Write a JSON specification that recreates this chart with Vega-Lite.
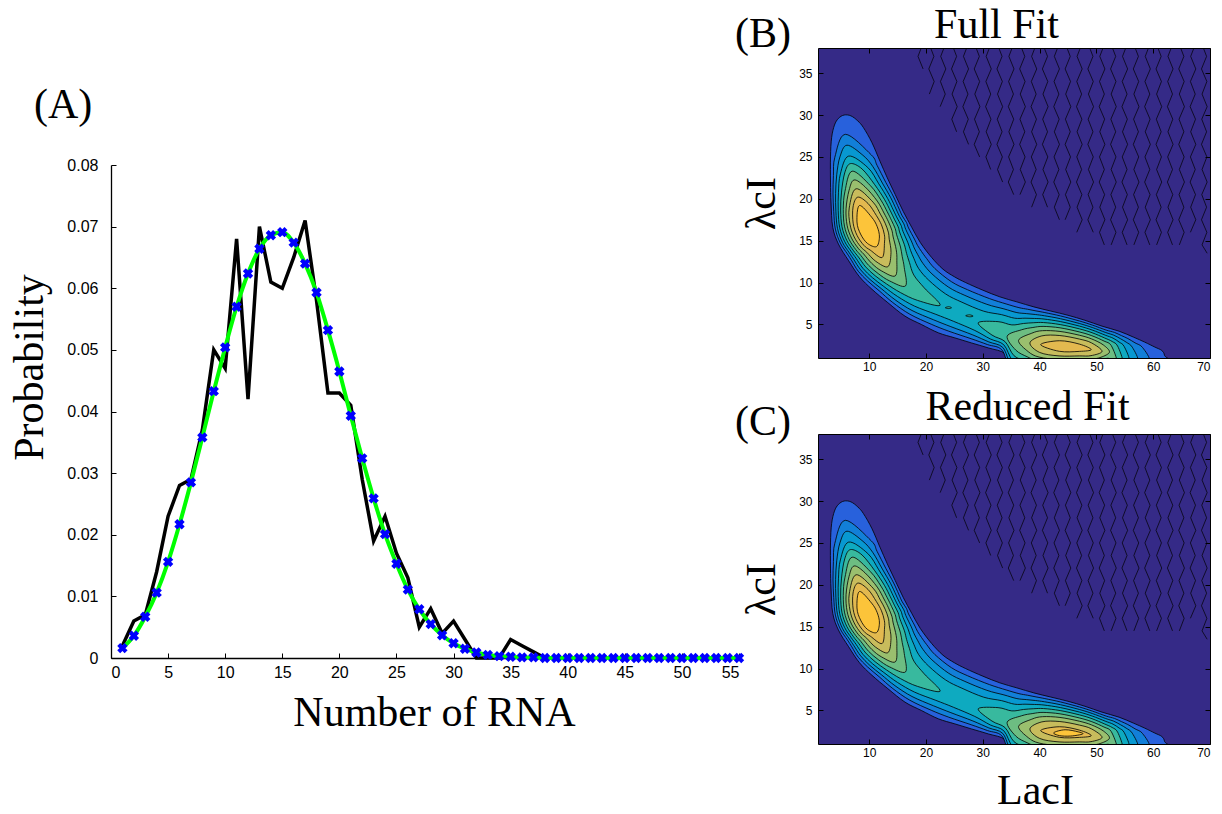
{
  "$schema": "https://vega.github.io/schema/vega-lite/v6.json",
  "background": "white",
  "padding": {"left": 8, "top": 3, "right": 0, "bottom": 0},
  "config": {
    "font": "Liberation Sans",
    "axis": {"labelFont": "Liberation Sans", "labelColor": "black", "titleFont": "Liberation Serif", "titleFontWeight": "normal", "titleColor": "black", "domainColor": "black", "tickColor": "black", "grid": false},
    "title": {"font": "Liberation Serif", "fontWeight": "normal", "color": "black"}
  },
  "datasets": {
    "rna": [
      {"rna":1,"observed":0.002,"fitted":0.0016},{"rna":2,"observed":0.006,"fitted":0.0036},{"rna":3,"observed":0.007,"fitted":0.0067},
      {"rna":4,"observed":0.014,"fitted":0.0106},{"rna":5,"observed":0.023,"fitted":0.0156},{"rna":6,"observed":0.028,"fitted":0.0217},
      {"rna":7,"observed":0.029,"fitted":0.0285},{"rna":8,"observed":0.037,"fitted":0.0358},{"rna":9,"observed":0.050,"fitted":0.0433},
      {"rna":10,"observed":0.047,"fitted":0.0504},{"rna":11,"observed":0.068,"fitted":0.0570},{"rna":12,"observed":0.042,"fitted":0.0624},
      {"rna":13,"observed":0.070,"fitted":0.0664},{"rna":14,"observed":0.061,"fitted":0.0686},{"rna":15,"observed":0.060,"fitted":0.0691},
      {"rna":16,"observed":0.065,"fitted":0.0674},{"rna":17,"observed":0.071,"fitted":0.0640},{"rna":18,"observed":0.058,"fitted":0.0593},
      {"rna":19,"observed":0.043,"fitted":0.0532},{"rna":20,"observed":0.043,"fitted":0.0465},{"rna":21,"observed":0.041,"fitted":0.0393},
      {"rna":22,"observed":0.029,"fitted":0.0324},{"rna":23,"observed":0.019,"fitted":0.0259},{"rna":24,"observed":0.023,"fitted":0.0201},
      {"rna":25,"observed":0.017,"fitted":0.0153},{"rna":26,"observed":0.013,"fitted":0.0111},{"rna":27,"observed":0.005,"fitted":0.0079},
      {"rna":28,"observed":0.008,"fitted":0.0055},{"rna":29,"observed":0.004,"fitted":0.0037},{"rna":30,"observed":0.006,"fitted":0.0024},
      {"rna":31,"observed":0.003,"fitted":0.0015},{"rna":32,"observed":0,"fitted":0.0009},{"rna":33,"observed":0,"fitted":0.0005},
      {"rna":34,"observed":0,"fitted":0.0003},{"rna":35,"observed":0.003,"fitted":0.0002},{"rna":36,"observed":0.002,"fitted":0.0001},
      {"rna":37,"observed":0.001,"fitted":0.0001},{"rna":38,"observed":0,"fitted":0},{"rna":39,"observed":0,"fitted":0},
      {"rna":40,"observed":0,"fitted":0},{"rna":41,"observed":0,"fitted":0},{"rna":42,"observed":0,"fitted":0},
      {"rna":43,"observed":0,"fitted":0},{"rna":44,"observed":0,"fitted":0},{"rna":45,"observed":0,"fitted":0},
      {"rna":46,"observed":0,"fitted":0},{"rna":47,"observed":0,"fitted":0},{"rna":48,"observed":0,"fitted":0},
      {"rna":49,"observed":0,"fitted":0},{"rna":50,"observed":0,"fitted":0},{"rna":51,"observed":0,"fitted":0},
      {"rna":52,"observed":0,"fitted":0},{"rna":53,"observed":0,"fitted":0},{"rna":54,"observed":0,"fitted":0},
      {"rna":55,"observed":0,"fitted":0}
    ],
    "bands": [
      {"band":"1","level":1,"laci":5.6,"ci":30},{"band":"1","level":1,"laci":6.8,"ci":29.9},{"band":"1","level":1,"laci":8,"ci":29.3},
      {"band":"1","level":1,"laci":9,"ci":28.5},{"band":"1","level":1,"laci":10.5,"ci":26.7},{"band":"1","level":1,"laci":11.9,"ci":24.5},
      {"band":"1","level":1,"laci":13.2,"ci":22.5},{"band":"1","level":1,"laci":14.6,"ci":20.5},{"band":"1","level":1,"laci":16,"ci":18.5},
      {"band":"1","level":1,"laci":17.5,"ci":16.6},{"band":"1","level":1,"laci":19,"ci":14.8},{"band":"1","level":1,"laci":21,"ci":13},
      {"band":"1","level":1,"laci":23,"ci":11.6},{"band":"1","level":1,"laci":25,"ci":10.7},{"band":"1","level":1,"laci":27,"ci":10},
      {"band":"1","level":1,"laci":30,"ci":9.1},{"band":"1","level":1,"laci":33,"ci":8.3},{"band":"1","level":1,"laci":36,"ci":7.7},
      {"band":"1","level":1,"laci":39,"ci":7.1},{"band":"1","level":1,"laci":42,"ci":6.6},{"band":"1","level":1,"laci":45,"ci":6.1},
      {"band":"1","level":1,"laci":48,"ci":5.5},{"band":"1","level":1,"laci":51,"ci":4.8},{"band":"1","level":1,"laci":54,"ci":4.2},
      {"band":"1","level":1,"laci":56.5,"ci":3.5},{"band":"1","level":1,"laci":58.5,"ci":2.9},{"band":"1","level":1,"laci":60.3,"ci":2.3},
      {"band":"1","level":1,"laci":61.5,"ci":1.9},{"band":"1","level":1,"laci":62,"ci":1.3},{"band":"1","level":1,"laci":62.1,"ci":0},
      {"band":"1","level":1,"laci":45,"ci":-1},{"band":"1","level":1,"laci":36,"ci":-0.5},{"band":"1","level":1,"laci":34,"ci":1.5},
      {"band":"1","level":1,"laci":31,"ci":2.2},{"band":"1","level":1,"laci":28,"ci":2.8},{"band":"1","level":1,"laci":25.1,"ci":3.4},
      {"band":"1","level":1,"laci":22.2,"ci":4},{"band":"1","level":1,"laci":19.2,"ci":5},{"band":"1","level":1,"laci":16.3,"ci":6},
      {"band":"1","level":1,"laci":13.3,"ci":7.6},{"band":"1","level":1,"laci":10.5,"ci":9.2},{"band":"1","level":1,"laci":8.3,"ci":10.7},
      {"band":"1","level":1,"laci":6.4,"ci":12.6},{"band":"1","level":1,"laci":4.6,"ci":14.6},{"band":"1","level":1,"laci":3.6,"ci":16.6},
      {"band":"1","level":1,"laci":3.3,"ci":19.5},{"band":"1","level":1,"laci":3.2,"ci":22},{"band":"1","level":1,"laci":3.2,"ci":25},
      {"band":"1","level":1,"laci":3.4,"ci":27.3},{"band":"1","level":1,"laci":3.9,"ci":28.8},{"band":"1","level":1,"laci":4.6,"ci":29.6},

      {"band":"2","level":2,"laci":5.8,"ci":27.7},{"band":"2","level":2,"laci":10.37,"ci":25.25},{"band":"2","level":2,"laci":11.4,"ci":23.99},
      {"band":"2","level":2,"laci":12.93,"ci":21.97},{"band":"2","level":2,"laci":14.31,"ci":20.22},{"band":"2","level":2,"laci":15.2,"ci":18.9},
      {"band":"2","level":2,"laci":15.82,"ci":17.97},{"band":"2","level":2,"laci":16.56,"ci":17.19},{"band":"2","level":2,"laci":16.94,"ci":16.52},
      {"band":"2","level":2,"laci":17.97,"ci":15.2},{"band":"2","level":2,"laci":18.53,"ci":14.43},{"band":"2","level":2,"laci":19.21,"ci":13.72},
      {"band":"2","level":2,"laci":20.11,"ci":12.88},{"band":"2","level":2,"laci":21.58,"ci":11.67},{"band":"2","level":2,"laci":24.48,"ci":10.11},
      {"band":"2","level":2,"laci":27.31,"ci":9.15},{"band":"2","level":2,"laci":31.18,"ci":8.09},{"band":"2","level":2,"laci":34.13,"ci":7.45},
      {"band":"2","level":2,"laci":36.37,"ci":7.01},{"band":"2","level":2,"laci":37.89,"ci":6.82},{"band":"2","level":2,"laci":39.38,"ci":6.62},
      {"band":"2","level":2,"laci":40.93,"ci":6.42},{"band":"2","level":2,"laci":43.68,"ci":6.02},{"band":"2","level":2,"laci":47,"ci":5.42},
      {"band":"2","level":2,"laci":49.28,"ci":4.93},{"band":"2","level":2,"laci":51.72,"ci":4.33},{"band":"2","level":2,"laci":53.19,"ci":4.05},
      {"band":"2","level":2,"laci":54.42,"ci":3.67},{"band":"2","level":2,"laci":55.54,"ci":3.32},{"band":"2","level":2,"laci":56.8,"ci":2.81},
      {"band":"2","level":2,"laci":58.13,"ci":2.25},{"band":"2","level":2,"laci":59.3,"ci":0.6},{"band":"2","level":2,"laci":56.06,"ci":0.23},
      {"band":"2","level":2,"laci":54.36,"ci":-0.05},{"band":"2","level":2,"laci":53.23,"ci":-0.15},{"band":"2","level":2,"laci":52.35,"ci":-0.3},
      {"band":"2","level":2,"laci":51.5,"ci":-0.43},{"band":"2","level":2,"laci":50.37,"ci":-0.55},{"band":"2","level":2,"laci":48.92,"ci":-0.65},
      {"band":"2","level":2,"laci":47,"ci":-0.69},{"band":"2","level":2,"laci":43.32,"ci":-0.86},{"band":"2","level":2,"laci":39.56,"ci":-0.83},
      {"band":"2","level":2,"laci":37.31,"ci":-0.63},{"band":"2","level":2,"laci":34.84,"ci":-0.27},{"band":"2","level":2,"laci":33.35,"ci":1.98},
      {"band":"2","level":2,"laci":30.85,"ci":2.6},{"band":"2","level":2,"laci":27.96,"ci":3.3},{"band":"2","level":2,"laci":24.02,"ci":4.2},
      {"band":"2","level":2,"laci":20.93,"ci":5.03},{"band":"2","level":2,"laci":17.18,"ci":6.22},{"band":"2","level":2,"laci":14.16,"ci":7.62},
      {"band":"2","level":2,"laci":11.76,"ci":9.03},{"band":"2","level":2,"laci":9.74,"ci":10.19},{"band":"2","level":2,"laci":8.09,"ci":11.35},
      {"band":"2","level":2,"laci":6.96,"ci":12.59},{"band":"2","level":2,"laci":6.18,"ci":13.42},{"band":"2","level":2,"laci":4.94,"ci":14.71},
      {"band":"2","level":2,"laci":4.06,"ci":16.38},{"band":"2","level":2,"laci":3.77,"ci":18.46},{"band":"2","level":2,"laci":3.64,"ci":20.57},
      {"band":"2","level":2,"laci":3.72,"ci":22.78},{"band":"2","level":2,"laci":3.96,"ci":24.95},

      {"band":"3","level":3,"laci":6.1,"ci":26.4},{"band":"3","level":3,"laci":8.9,"ci":25.2},{"band":"3","level":3,"laci":10.63,"ci":23.87},
      {"band":"3","level":3,"laci":12.33,"ci":21.88},{"band":"3","level":3,"laci":13.8,"ci":20.13},{"band":"3","level":3,"laci":14.73,"ci":18.79},
      {"band":"3","level":3,"laci":15.39,"ci":17.85},{"band":"3","level":3,"laci":16.1,"ci":17.02},{"band":"3","level":3,"laci":16.46,"ci":16.33},
      {"band":"3","level":3,"laci":17.42,"ci":14.98},{"band":"3","level":3,"laci":17.93,"ci":14.14},{"band":"3","level":3,"laci":18.57,"ci":13.32},
      {"band":"3","level":3,"laci":19.46,"ci":12.3},{"band":"3","level":3,"laci":21.06,"ci":11.04},{"band":"3","level":3,"laci":24.01,"ci":9.44},
      {"band":"3","level":3,"laci":26.86,"ci":8.47},{"band":"3","level":3,"laci":30.71,"ci":7.41},{"band":"3","level":3,"laci":33.73,"ci":6.86},
      {"band":"3","level":3,"laci":36.01,"ci":6.42},{"band":"3","level":3,"laci":37.67,"ci":6.3},{"band":"3","level":3,"laci":39.26,"ci":6.19},
      {"band":"3","level":3,"laci":40.86,"ci":6.04},{"band":"3","level":3,"laci":43.67,"ci":5.69},{"band":"3","level":3,"laci":47,"ci":5.12},
      {"band":"3","level":3,"laci":49.27,"ci":4.64},{"band":"3","level":3,"laci":51.64,"ci":4.04},{"band":"3","level":3,"laci":53.06,"ci":3.72},
      {"band":"3","level":3,"laci":54.22,"ci":3.31},{"band":"3","level":3,"laci":55.25,"ci":2.89},{"band":"3","level":3,"laci":56.32,"ci":2.29},
      {"band":"3","level":3,"laci":57.3,"ci":0.6},{"band":"3","level":3,"laci":54.78,"ci":0.49},{"band":"3","level":3,"laci":53.48,"ci":0.24},
      {"band":"3","level":3,"laci":52.52,"ci":0.04},{"band":"3","level":3,"laci":51.61,"ci":-0.13},{"band":"3","level":3,"laci":50.44,"ci":-0.28},
      {"band":"3","level":3,"laci":48.94,"ci":-0.39},{"band":"3","level":3,"laci":47,"ci":-0.43},{"band":"3","level":3,"laci":43.33,"ci":-0.57},
      {"band":"3","level":3,"laci":39.62,"ci":-0.49},{"band":"3","level":3,"laci":37.42,"ci":-0.24},{"band":"3","level":3,"laci":35.04,"ci":0.2},
      {"band":"3","level":3,"laci":33.52,"ci":2.26},{"band":"3","level":3,"laci":31.07,"ci":2.92},{"band":"3","level":3,"laci":28.26,"ci":3.75},
      {"band":"3","level":3,"laci":24.39,"ci":4.74},{"band":"3","level":3,"laci":21.3,"ci":5.57},{"band":"3","level":3,"laci":17.55,"ci":6.67},
      {"band":"3","level":3,"laci":14.55,"ci":7.96},{"band":"3","level":3,"laci":12.16,"ci":9.27},{"band":"3","level":3,"laci":10.14,"ci":10.38},
      {"band":"3","level":3,"laci":8.51,"ci":11.52},{"band":"3","level":3,"laci":7.32,"ci":12.73},{"band":"3","level":3,"laci":6.52,"ci":13.54},
      {"band":"3","level":3,"laci":5.3,"ci":14.81},{"band":"3","level":3,"laci":4.43,"ci":16.47},{"band":"3","level":3,"laci":4.15,"ci":18.52},
      {"band":"3","level":3,"laci":4.1,"ci":20.64},{"band":"3","level":3,"laci":4.3,"ci":22.87},{"band":"3","level":3,"laci":4.86,"ci":25},

      {"band":"4","level":4,"laci":6.4,"ci":25.1},{"band":"4","level":4,"laci":9.77,"ci":23.73},{"band":"4","level":4,"laci":11.7,"ci":21.79},
      {"band":"4","level":4,"laci":13.26,"ci":20.04},{"band":"4","level":4,"laci":14.24,"ci":18.68},{"band":"4","level":4,"laci":14.93,"ci":17.71},
      {"band":"4","level":4,"laci":15.62,"ci":16.84},{"band":"4","level":4,"laci":15.95,"ci":16.13},{"band":"4","level":4,"laci":16.83,"ci":14.75},
      {"band":"4","level":4,"laci":17.3,"ci":13.83},{"band":"4","level":4,"laci":17.88,"ci":12.88},{"band":"4","level":4,"laci":18.73,"ci":11.66},
      {"band":"4","level":4,"laci":20.47,"ci":10.3},{"band":"4","level":4,"laci":23.45,"ci":8.65},{"band":"4","level":4,"laci":26.33,"ci":7.66},
      {"band":"4","level":4,"laci":30.15,"ci":6.59},{"band":"4","level":4,"laci":33.27,"ci":6.18},{"band":"4","level":4,"laci":35.6,"ci":5.75},
      {"band":"4","level":4,"laci":37.43,"ci":5.75},{"band":"4","level":4,"laci":39.13,"ci":5.72},{"band":"4","level":4,"laci":40.78,"ci":5.65},
      {"band":"4","level":4,"laci":43.65,"ci":5.35},{"band":"4","level":4,"laci":47,"ci":4.81},{"band":"4","level":4,"laci":49.25,"ci":4.34},
      {"band":"4","level":4,"laci":51.55,"ci":3.73},{"band":"4","level":4,"laci":52.93,"ci":3.37},{"band":"4","level":4,"laci":54.01,"ci":2.9},
      {"band":"4","level":4,"laci":54.9,"ci":2.37},{"band":"4","level":4,"laci":55.8,"ci":0.6},{"band":"4","level":4,"laci":53.78,"ci":0.71},
      {"band":"4","level":4,"laci":52.7,"ci":0.41},{"band":"4","level":4,"laci":51.73,"ci":0.19},{"band":"4","level":4,"laci":50.52,"ci":0.01},
      {"band":"4","level":4,"laci":48.95,"ci":-0.12},{"band":"4","level":4,"laci":47,"ci":-0.15},{"band":"4","level":4,"laci":43.35,"ci":-0.26},
      {"band":"4","level":4,"laci":39.69,"ci":-0.14},{"band":"4","level":4,"laci":37.54,"ci":0.18},{"band":"4","level":4,"laci":35.26,"ci":0.71},
      {"band":"4","level":4,"laci":33.7,"ci":2.58},{"band":"4","level":4,"laci":31.31,"ci":3.28},{"band":"4","level":4,"laci":28.6,"ci":4.29},
      {"band":"4","level":4,"laci":24.82,"ci":5.39},{"band":"4","level":4,"laci":21.75,"ci":6.21},{"band":"4","level":4,"laci":17.97,"ci":7.2},
      {"band":"4","level":4,"laci":14.99,"ci":8.35},{"band":"4","level":4,"laci":12.58,"ci":9.54},{"band":"4","level":4,"laci":10.58,"ci":10.59},
      {"band":"4","level":4,"laci":8.94,"ci":11.68},{"band":"4","level":4,"laci":7.71,"ci":12.89},{"band":"4","level":4,"laci":6.88,"ci":13.67},
      {"band":"4","level":4,"laci":5.67,"ci":14.93},{"band":"4","level":4,"laci":4.82,"ci":16.55},{"band":"4","level":4,"laci":4.56,"ci":18.59},
      {"band":"4","level":4,"laci":4.6,"ci":20.72},{"band":"4","level":4,"laci":4.94,"ci":22.97},

      {"band":"5a","level":5,"laci":6.7,"ci":24.2},{"band":"5a","level":5,"laci":8.74,"ci":23.57},{"band":"5a","level":5,"laci":10.99,"ci":21.68},
      {"band":"5a","level":5,"laci":12.69,"ci":19.94},{"band":"5a","level":5,"laci":13.73,"ci":18.57},{"band":"5a","level":5,"laci":14.44,"ci":17.57},
      {"band":"5a","level":5,"laci":15.11,"ci":16.66},{"band":"5a","level":5,"laci":15.42,"ci":15.92},{"band":"5a","level":5,"laci":16.21,"ci":14.51},
      {"band":"5a","level":5,"laci":16.59,"ci":13.49},{"band":"5a","level":5,"laci":17.1,"ci":12.39},{"band":"5a","level":5,"laci":17.87,"ci":10.9},
      {"band":"5a","level":5,"laci":19.7,"ci":9.37},{"band":"5a","level":5,"laci":22.5,"ci":7.3},{"band":"5a","level":5,"laci":18.5,"ci":7.88},
      {"band":"5a","level":5,"laci":15.51,"ci":8.81},{"band":"5a","level":5,"laci":13.06,"ci":9.84},{"band":"5a","level":5,"laci":11.06,"ci":10.82},
      {"band":"5a","level":5,"laci":9.4,"ci":11.87},{"band":"5a","level":5,"laci":8.12,"ci":13.05},{"band":"5a","level":5,"laci":7.25,"ci":13.8},
      {"band":"5a","level":5,"laci":6.06,"ci":15.05},{"band":"5a","level":5,"laci":5.23,"ci":16.65},{"band":"5a","level":5,"laci":4.99,"ci":18.66},
      {"band":"5a","level":5,"laci":5.14,"ci":20.8},{"band":"5a","level":5,"laci":5.7,"ci":23.09},

      {"band":"5b","level":5,"laci":29.2,"ci":5.2},{"band":"5b","level":5,"laci":32.7,"ci":5.34},{"band":"5b","level":5,"laci":35.12,"ci":4.95},
      {"band":"5b","level":5,"laci":37.17,"ci":5.12},{"band":"5b","level":5,"laci":38.98,"ci":5.21},{"band":"5b","level":5,"laci":40.7,"ci":5.23},
      {"band":"5b","level":5,"laci":43.63,"ci":4.99},{"band":"5b","level":5,"laci":47,"ci":4.48},{"band":"5b","level":5,"laci":49.23,"ci":4.02},
      {"band":"5b","level":5,"laci":51.45,"ci":3.39},{"band":"5b","level":5,"laci":52.78,"ci":2.97},{"band":"5b","level":5,"laci":53.74,"ci":2.42},
      {"band":"5b","level":5,"laci":54.6,"ci":0.6},{"band":"5b","level":5,"laci":52.92,"ci":0.85},{"band":"5b","level":5,"laci":51.87,"ci":0.55},
      {"band":"5b","level":5,"laci":50.6,"ci":0.32},{"band":"5b","level":5,"laci":48.97,"ci":0.17},{"band":"5b","level":5,"laci":47,"ci":0.15},
      {"band":"5b","level":5,"laci":43.37,"ci":0.07},{"band":"5b","level":5,"laci":39.76,"ci":0.24},{"band":"5b","level":5,"laci":37.68,"ci":0.64},
      {"band":"5b","level":5,"laci":35.51,"ci":1.27},{"band":"5b","level":5,"laci":33.92,"ci":2.96},{"band":"5b","level":5,"laci":31.62,"ci":3.74},

      {"band":"6a","level":6,"laci":7,"ci":23.3},{"band":"6a","level":6,"laci":10.22,"ci":21.57},{"band":"6a","level":6,"laci":12.08,"ci":19.84},
      {"band":"6a","level":6,"laci":13.19,"ci":18.45},{"band":"6a","level":6,"laci":13.94,"ci":17.42},{"band":"6a","level":6,"laci":14.58,"ci":16.46},
      {"band":"6a","level":6,"laci":14.85,"ci":15.7},{"band":"6a","level":6,"laci":15.52,"ci":14.25},{"band":"6a","level":6,"laci":15.82,"ci":13.12},
      {"band":"6a","level":6,"laci":16.18,"ci":11.8},{"band":"6a","level":6,"laci":16.4,"ci":9.6},{"band":"6a","level":6,"laci":13.63,"ci":10.19},
      {"band":"6a","level":6,"laci":11.59,"ci":11.08},{"band":"6a","level":6,"laci":9.91,"ci":12.06},{"band":"6a","level":6,"laci":8.56,"ci":13.22},
      {"band":"6a","level":6,"laci":7.65,"ci":13.94},{"band":"6a","level":6,"laci":6.46,"ci":15.17},{"band":"6a","level":6,"laci":5.66,"ci":16.74},
      {"band":"6a","level":6,"laci":5.45,"ci":18.73},{"band":"6a","level":6,"laci":5.75,"ci":20.9},

      {"band":"6b","level":6,"laci":34.3,"ci":3.6},{"band":"6b","level":6,"laci":36.85,"ci":4.37},{"band":"6b","level":6,"laci":38.82,"ci":4.64},
      {"band":"6b","level":6,"laci":40.62,"ci":4.77},{"band":"6b","level":6,"laci":43.61,"ci":4.6},{"band":"6b","level":6,"laci":47,"ci":4.11},
      {"band":"6b","level":6,"laci":49.2,"ci":3.66},{"band":"6b","level":6,"laci":51.35,"ci":3.02},{"band":"6b","level":6,"laci":52.6,"ci":2.5},
      {"band":"6b","level":6,"laci":53.6,"ci":0.6},{"band":"6b","level":6,"laci":52.03,"ci":0.97},{"band":"6b","level":6,"laci":50.7,"ci":0.67},
      {"band":"6b","level":6,"laci":48.99,"ci":0.49},{"band":"6b","level":6,"laci":47,"ci":0.48},{"band":"6b","level":6,"laci":43.39,"ci":0.42},
      {"band":"6b","level":6,"laci":39.84,"ci":0.65},{"band":"6b","level":6,"laci":37.82,"ci":1.15},{"band":"6b","level":6,"laci":35.8,"ci":1.95},

      {"band":"7a","level":7,"laci":7.35,"ci":22.25},{"band":"7a","level":7,"laci":9.28,"ci":21.43},{"band":"7a","level":7,"laci":11.43,"ci":19.73},
      {"band":"7a","level":7,"laci":12.61,"ci":18.31},{"band":"7a","level":7,"laci":13.4,"ci":17.26},{"band":"7a","level":7,"laci":14,"ci":16.25},
      {"band":"7a","level":7,"laci":14.23,"ci":15.45},{"band":"7a","level":7,"laci":14.76,"ci":13.95},{"band":"7a","level":7,"laci":14.88,"ci":12.66},
      {"band":"7a","level":7,"laci":14.6,"ci":10.8},{"band":"7a","level":7,"laci":12.22,"ci":11.38},{"band":"7a","level":7,"laci":10.47,"ci":12.29},
      {"band":"7a","level":7,"laci":9.04,"ci":13.41},{"band":"7a","level":7,"laci":8.07,"ci":14.1},{"band":"7a","level":7,"laci":6.9,"ci":15.31},
      {"band":"7a","level":7,"laci":6.12,"ci":16.85},{"band":"7a","level":7,"laci":5.94,"ci":18.82},{"band":"7a","level":7,"laci":6.47,"ci":21.01},

      {"band":"7b","level":7,"laci":36.3,"ci":3.1},{"band":"7b","level":7,"laci":38.63,"ci":3.96},{"band":"7b","level":7,"laci":40.52,"ci":4.26},
      {"band":"7b","level":7,"laci":43.59,"ci":4.17},{"band":"7b","level":7,"laci":47,"ci":3.72},{"band":"7b","level":7,"laci":49.18,"ci":3.27},
      {"band":"7b","level":7,"laci":51.22,"ci":2.56},{"band":"7b","level":7,"laci":52.3,"ci":1.7},{"band":"7b","level":7,"laci":50.81,"ci":1.09},
      {"band":"7b","level":7,"laci":49.02,"ci":0.85},{"band":"7b","level":7,"laci":47,"ci":0.83},{"band":"7b","level":7,"laci":43.41,"ci":0.81},
      {"band":"7b","level":7,"laci":39.92,"ci":1.11},{"band":"7b","level":7,"laci":38,"ci":1.76},

      {"band":"8a","level":8,"laci":7.7,"ci":21.2},{"band":"8a","level":8,"laci":10.69,"ci":19.6},{"band":"8a","level":8,"laci":11.98,"ci":18.17},
      {"band":"8a","level":8,"laci":12.82,"ci":17.09},{"band":"8a","level":8,"laci":13.38,"ci":16.02},{"band":"8a","level":8,"laci":13.54,"ci":15.18},
      {"band":"8a","level":8,"laci":13.85,"ci":13.6},{"band":"8a","level":8,"laci":13.3,"ci":11.9},{"band":"8a","level":8,"laci":11.15,"ci":12.55},
      {"band":"8a","level":8,"laci":9.58,"ci":13.62},{"band":"8a","level":8,"laci":8.54,"ci":14.26},{"band":"8a","level":8,"laci":7.37,"ci":15.45},
      {"band":"8a","level":8,"laci":6.63,"ci":16.96},{"band":"8a","level":8,"laci":6.5,"ci":18.91},

      {"band":"8b","level":8,"laci":38.3,"ci":2.8},{"band":"8b","level":8,"laci":40.4,"ci":3.64},{"band":"8b","level":8,"laci":43.57,"ci":3.68},
      {"band":"8b","level":8,"laci":47,"ci":3.26},{"band":"8b","level":8,"laci":49.15,"ci":2.8},{"band":"8b","level":8,"laci":51,"ci":1.8},
      {"band":"8b","level":8,"laci":49.05,"ci":1.28},{"band":"8b","level":8,"laci":47,"ci":1.25},{"band":"8b","level":8,"laci":43.43,"ci":1.25},
      {"band":"8b","level":8,"laci":40.03,"ci":1.66},

      {"band":"9a","level":9,"laci":8,"ci":20.2},{"band":"9a","level":9,"laci":9.8,"ci":19.45},{"band":"9a","level":9,"laci":11.27,"ci":18.01},
      {"band":"9a","level":9,"laci":12.17,"ci":16.9},{"band":"9a","level":9,"laci":12.67,"ci":15.76},{"band":"9a","level":9,"laci":12.71,"ci":14.85},
      {"band":"9a","level":9,"laci":12.3,"ci":13},{"band":"9a","level":9,"laci":10.21,"ci":13.87},{"band":"9a","level":9,"laci":9.07,"ci":14.45},
      {"band":"9a","level":9,"laci":7.89,"ci":15.61},{"band":"9a","level":9,"laci":7.19,"ci":17.09},{"band":"9a","level":9,"laci":7.17,"ci":19.02},

      {"band":"9b","level":9,"laci":40.2,"ci":2.6},{"band":"9b","level":9,"laci":43.53,"ci":3.06},{"band":"9b","level":9,"laci":47,"ci":2.66},
      {"band":"9b","level":9,"laci":49.1,"ci":2},{"band":"9b","level":9,"laci":47,"ci":1.79},{"band":"9b","level":9,"laci":43.47,"ci":1.8},

      {"band":"10a","level":10,"laci":8.3,"ci":19.2},{"band":"10a","level":10,"laci":10.43,"ci":17.82},{"band":"10a","level":10,"laci":11.42,"ci":16.68},
      {"band":"10a","level":10,"laci":11.81,"ci":15.44},{"band":"10a","level":10,"laci":11.3,"ci":14.3},{"band":"10a","level":10,"laci":9.7,"ci":14.68},
      {"band":"10a","level":10,"laci":8.49,"ci":15.8},{"band":"10a","level":10,"laci":7.86,"ci":17.24}
    ],
    "fullExtra": [
      {"band":"d1","level":5,"laci":23.4,"ci":7},{"band":"d1","level":5,"laci":24,"ci":7.12},{"band":"d1","level":5,"laci":24.5,"ci":7},{"band":"d1","level":5,"laci":24,"ci":6.9},
      {"band":"d2","level":5,"laci":27,"ci":6.05},{"band":"d2","level":5,"laci":27.7,"ci":6.15},{"band":"d2","level":5,"laci":28.3,"ci":6},{"band":"d2","level":5,"laci":27.7,"ci":5.92}
    ],
    "reducedExtra": [
      {"band":"10b","level":10,"laci":42.5,"ci":2.35},{"band":"10b","level":10,"laci":44.5,"ci":2.7},{"band":"10b","level":10,"laci":46.8,"ci":2.45},
      {"band":"10b","level":10,"laci":47.6,"ci":2.2},{"band":"10b","level":10,"laci":45.5,"ci":1.95},{"band":"10b","level":10,"laci":43.5,"ci":2}
    ],
    "noise": [
      {"line":"n19","laci":19.45,"ci":38.5},{"line":"n19","laci":18.6,"ci":37},{"line":"n19","laci":19.5,"ci":35.5},
      {"line":"n21","laci":20.55,"ci":38.5},{"line":"n21","laci":21.4,"ci":37},{"line":"n21","laci":20.5,"ci":35.5},{"line":"n21","laci":21.45,"ci":34},{"line":"n21","laci":20.6,"ci":32.5},
      {"line":"n23","laci":23.45,"ci":38.5},{"line":"n23","laci":22.6,"ci":37},{"line":"n23","laci":23.5,"ci":35.5},{"line":"n23","laci":22.55,"ci":34},{"line":"n23","laci":23.4,"ci":32.5},{"line":"n23","laci":22.5,"ci":31},
      {"line":"n25","laci":24.55,"ci":38.5},{"line":"n25","laci":25.4,"ci":37},{"line":"n25","laci":24.5,"ci":35.5},{"line":"n25","laci":25.45,"ci":34},{"line":"n25","laci":24.6,"ci":32.5},{"line":"n25","laci":25.5,"ci":31},{"line":"n25","laci":24.55,"ci":29.5},{"line":"n25","laci":25.4,"ci":28},
      {"line":"n27","laci":27.45,"ci":38.5},{"line":"n27","laci":26.6,"ci":37},{"line":"n27","laci":27.5,"ci":35.5},{"line":"n27","laci":26.55,"ci":34},{"line":"n27","laci":27.4,"ci":32.5},{"line":"n27","laci":26.5,"ci":31},{"line":"n27","laci":27.45,"ci":29.5},{"line":"n27","laci":26.6,"ci":28},{"line":"n27","laci":27.5,"ci":26.5},
      {"line":"n29","laci":28.55,"ci":38.5},{"line":"n29","laci":29.4,"ci":37},{"line":"n29","laci":28.5,"ci":35.5},{"line":"n29","laci":29.45,"ci":34},{"line":"n29","laci":28.6,"ci":32.5},{"line":"n29","laci":29.5,"ci":31},{"line":"n29","laci":28.55,"ci":29.5},{"line":"n29","laci":29.4,"ci":28},{"line":"n29","laci":28.5,"ci":26.5},{"line":"n29","laci":29.45,"ci":25},
      {"line":"n31","laci":31.45,"ci":38.5},{"line":"n31","laci":30.6,"ci":37},{"line":"n31","laci":31.5,"ci":35.5},{"line":"n31","laci":30.55,"ci":34},{"line":"n31","laci":31.4,"ci":32.5},{"line":"n31","laci":30.5,"ci":31},{"line":"n31","laci":31.45,"ci":29.5},{"line":"n31","laci":30.6,"ci":28},{"line":"n31","laci":31.5,"ci":26.5},{"line":"n31","laci":30.55,"ci":25},{"line":"n31","laci":31.4,"ci":23.5},
      {"line":"n33","laci":32.55,"ci":38.5},{"line":"n33","laci":33.4,"ci":37},{"line":"n33","laci":32.5,"ci":35.5},{"line":"n33","laci":33.45,"ci":34},{"line":"n33","laci":32.6,"ci":32.5},{"line":"n33","laci":33.5,"ci":31},{"line":"n33","laci":32.55,"ci":29.5},{"line":"n33","laci":33.4,"ci":28},{"line":"n33","laci":32.5,"ci":26.5},{"line":"n33","laci":33.45,"ci":25},{"line":"n33","laci":32.6,"ci":23.5},{"line":"n33","laci":33.5,"ci":22},
      {"line":"n35","laci":35.45,"ci":38.5},{"line":"n35","laci":34.6,"ci":37},{"line":"n35","laci":35.5,"ci":35.5},{"line":"n35","laci":34.55,"ci":34},{"line":"n35","laci":35.4,"ci":32.5},{"line":"n35","laci":34.5,"ci":31},{"line":"n35","laci":35.45,"ci":29.5},{"line":"n35","laci":34.6,"ci":28},{"line":"n35","laci":35.5,"ci":26.5},{"line":"n35","laci":34.55,"ci":25},{"line":"n35","laci":35.4,"ci":23.5},{"line":"n35","laci":34.5,"ci":22},{"line":"n35","laci":35.45,"ci":20.5},
      {"line":"n37","laci":36.55,"ci":38.5},{"line":"n37","laci":37.4,"ci":37},{"line":"n37","laci":36.5,"ci":35.5},{"line":"n37","laci":37.45,"ci":34},{"line":"n37","laci":36.6,"ci":32.5},{"line":"n37","laci":37.5,"ci":31},{"line":"n37","laci":36.55,"ci":29.5},{"line":"n37","laci":37.4,"ci":28},{"line":"n37","laci":36.5,"ci":26.5},{"line":"n37","laci":37.45,"ci":25},{"line":"n37","laci":36.6,"ci":23.5},{"line":"n37","laci":37.5,"ci":22},{"line":"n37","laci":36.55,"ci":20.5},
      {"line":"n39","laci":39.45,"ci":38.5},{"line":"n39","laci":38.6,"ci":37},{"line":"n39","laci":39.5,"ci":35.5},{"line":"n39","laci":38.55,"ci":34},{"line":"n39","laci":39.4,"ci":32.5},{"line":"n39","laci":38.5,"ci":31},{"line":"n39","laci":39.45,"ci":29.5},{"line":"n39","laci":38.6,"ci":28},{"line":"n39","laci":39.5,"ci":26.5},{"line":"n39","laci":38.55,"ci":25},{"line":"n39","laci":39.4,"ci":23.5},{"line":"n39","laci":38.5,"ci":22},{"line":"n39","laci":39.45,"ci":20.5},{"line":"n39","laci":38.6,"ci":19},
      {"line":"n41","laci":40.55,"ci":38.5},{"line":"n41","laci":41.4,"ci":37},{"line":"n41","laci":40.5,"ci":35.5},{"line":"n41","laci":41.45,"ci":34},{"line":"n41","laci":40.6,"ci":32.5},{"line":"n41","laci":41.5,"ci":31},{"line":"n41","laci":40.55,"ci":29.5},{"line":"n41","laci":41.4,"ci":28},{"line":"n41","laci":40.5,"ci":26.5},{"line":"n41","laci":41.45,"ci":25},{"line":"n41","laci":40.6,"ci":23.5},{"line":"n41","laci":41.5,"ci":22},{"line":"n41","laci":40.55,"ci":20.5},{"line":"n41","laci":41.4,"ci":19},
      {"line":"n43","laci":43.45,"ci":38.5},{"line":"n43","laci":42.6,"ci":37},{"line":"n43","laci":43.5,"ci":35.5},{"line":"n43","laci":42.55,"ci":34},{"line":"n43","laci":43.4,"ci":32.5},{"line":"n43","laci":42.5,"ci":31},{"line":"n43","laci":43.45,"ci":29.5},{"line":"n43","laci":42.6,"ci":28},{"line":"n43","laci":43.5,"ci":26.5},{"line":"n43","laci":42.55,"ci":25},{"line":"n43","laci":43.4,"ci":23.5},{"line":"n43","laci":42.5,"ci":22},{"line":"n43","laci":43.45,"ci":20.5},{"line":"n43","laci":42.6,"ci":19},{"line":"n43","laci":43.5,"ci":17.5},
      {"line":"n45","laci":44.55,"ci":38.5},{"line":"n45","laci":45.4,"ci":37},{"line":"n45","laci":44.5,"ci":35.5},{"line":"n45","laci":45.45,"ci":34},{"line":"n45","laci":44.6,"ci":32.5},{"line":"n45","laci":45.5,"ci":31},{"line":"n45","laci":44.55,"ci":29.5},{"line":"n45","laci":45.4,"ci":28},{"line":"n45","laci":44.5,"ci":26.5},{"line":"n45","laci":45.45,"ci":25},{"line":"n45","laci":44.6,"ci":23.5},{"line":"n45","laci":45.5,"ci":22},{"line":"n45","laci":44.55,"ci":20.5},{"line":"n45","laci":45.4,"ci":19},{"line":"n45","laci":44.5,"ci":17.5},
      {"line":"n47","laci":47.45,"ci":38.5},{"line":"n47","laci":46.6,"ci":37},{"line":"n47","laci":47.5,"ci":35.5},{"line":"n47","laci":46.55,"ci":34},{"line":"n47","laci":47.4,"ci":32.5},{"line":"n47","laci":46.5,"ci":31},{"line":"n47","laci":47.45,"ci":29.5},{"line":"n47","laci":46.6,"ci":28},{"line":"n47","laci":47.5,"ci":26.5},{"line":"n47","laci":46.55,"ci":25},{"line":"n47","laci":47.4,"ci":23.5},{"line":"n47","laci":46.5,"ci":22},{"line":"n47","laci":47.45,"ci":20.5},{"line":"n47","laci":46.6,"ci":19},{"line":"n47","laci":47.5,"ci":17.5},{"line":"n47","laci":46.55,"ci":16},
      {"line":"n49","laci":48.55,"ci":38.5},{"line":"n49","laci":49.4,"ci":37},{"line":"n49","laci":48.5,"ci":35.5},{"line":"n49","laci":49.45,"ci":34},{"line":"n49","laci":48.6,"ci":32.5},{"line":"n49","laci":49.5,"ci":31},{"line":"n49","laci":48.55,"ci":29.5},{"line":"n49","laci":49.4,"ci":28},{"line":"n49","laci":48.5,"ci":26.5},{"line":"n49","laci":49.45,"ci":25},{"line":"n49","laci":48.6,"ci":23.5},{"line":"n49","laci":49.5,"ci":22},{"line":"n49","laci":48.55,"ci":20.5},{"line":"n49","laci":49.4,"ci":19},{"line":"n49","laci":48.5,"ci":17.5},{"line":"n49","laci":49.45,"ci":16},
      {"line":"n51","laci":51.45,"ci":38.5},{"line":"n51","laci":50.6,"ci":37},{"line":"n51","laci":51.5,"ci":35.5},{"line":"n51","laci":50.55,"ci":34},{"line":"n51","laci":51.4,"ci":32.5},{"line":"n51","laci":50.5,"ci":31},{"line":"n51","laci":51.45,"ci":29.5},{"line":"n51","laci":50.6,"ci":28},{"line":"n51","laci":51.5,"ci":26.5},{"line":"n51","laci":50.55,"ci":25},{"line":"n51","laci":51.4,"ci":23.5},{"line":"n51","laci":50.5,"ci":22},{"line":"n51","laci":51.45,"ci":20.5},{"line":"n51","laci":50.6,"ci":19},{"line":"n51","laci":51.5,"ci":17.5},{"line":"n51","laci":50.55,"ci":16},{"line":"n51","laci":51.4,"ci":14.5},
      {"line":"n53","laci":52.55,"ci":38.5},{"line":"n53","laci":53.4,"ci":37},{"line":"n53","laci":52.5,"ci":35.5},{"line":"n53","laci":53.45,"ci":34},{"line":"n53","laci":52.6,"ci":32.5},{"line":"n53","laci":53.5,"ci":31},{"line":"n53","laci":52.55,"ci":29.5},{"line":"n53","laci":53.4,"ci":28},{"line":"n53","laci":52.5,"ci":26.5},{"line":"n53","laci":53.45,"ci":25},{"line":"n53","laci":52.6,"ci":23.5},{"line":"n53","laci":53.5,"ci":22},{"line":"n53","laci":52.55,"ci":20.5},{"line":"n53","laci":53.4,"ci":19},{"line":"n53","laci":52.5,"ci":17.5},{"line":"n53","laci":53.45,"ci":16},{"line":"n53","laci":52.6,"ci":14.5},
      {"line":"n55","laci":55.45,"ci":38.5},{"line":"n55","laci":54.6,"ci":37},{"line":"n55","laci":55.5,"ci":35.5},{"line":"n55","laci":54.55,"ci":34},{"line":"n55","laci":55.4,"ci":32.5},{"line":"n55","laci":54.5,"ci":31},{"line":"n55","laci":55.45,"ci":29.5},{"line":"n55","laci":54.6,"ci":28},{"line":"n55","laci":55.5,"ci":26.5},{"line":"n55","laci":54.55,"ci":25},{"line":"n55","laci":55.4,"ci":23.5},{"line":"n55","laci":54.5,"ci":22},{"line":"n55","laci":55.45,"ci":20.5},{"line":"n55","laci":54.6,"ci":19},{"line":"n55","laci":55.5,"ci":17.5},{"line":"n55","laci":54.55,"ci":16},{"line":"n55","laci":55.4,"ci":14.5},
      {"line":"n57","laci":56.55,"ci":38.5},{"line":"n57","laci":57.4,"ci":37},{"line":"n57","laci":56.5,"ci":35.5},{"line":"n57","laci":57.45,"ci":34},{"line":"n57","laci":56.6,"ci":32.5},{"line":"n57","laci":57.5,"ci":31},{"line":"n57","laci":56.55,"ci":29.5},{"line":"n57","laci":57.4,"ci":28},{"line":"n57","laci":56.5,"ci":26.5},{"line":"n57","laci":57.45,"ci":25},{"line":"n57","laci":56.6,"ci":23.5},{"line":"n57","laci":57.5,"ci":22},{"line":"n57","laci":56.55,"ci":20.5},{"line":"n57","laci":57.4,"ci":19},{"line":"n57","laci":56.5,"ci":17.5},{"line":"n57","laci":57.45,"ci":16},{"line":"n57","laci":56.6,"ci":14.5},
      {"line":"n59","laci":59.45,"ci":38.5},{"line":"n59","laci":58.6,"ci":37},{"line":"n59","laci":59.5,"ci":35.5},{"line":"n59","laci":58.55,"ci":34},{"line":"n59","laci":59.4,"ci":32.5},{"line":"n59","laci":58.5,"ci":31},{"line":"n59","laci":59.45,"ci":29.5},{"line":"n59","laci":58.6,"ci":28},{"line":"n59","laci":59.5,"ci":26.5},{"line":"n59","laci":58.55,"ci":25},{"line":"n59","laci":59.4,"ci":23.5},{"line":"n59","laci":58.5,"ci":22},{"line":"n59","laci":59.45,"ci":20.5},{"line":"n59","laci":58.6,"ci":19},{"line":"n59","laci":59.5,"ci":17.5},{"line":"n59","laci":58.55,"ci":16},{"line":"n59","laci":59.4,"ci":14.5},
      {"line":"n61","laci":60.55,"ci":38.5},{"line":"n61","laci":61.4,"ci":37},{"line":"n61","laci":60.5,"ci":35.5},{"line":"n61","laci":61.45,"ci":34},{"line":"n61","laci":60.6,"ci":32.5},{"line":"n61","laci":61.5,"ci":31},{"line":"n61","laci":60.55,"ci":29.5},{"line":"n61","laci":61.4,"ci":28},{"line":"n61","laci":60.5,"ci":26.5},{"line":"n61","laci":61.45,"ci":25},{"line":"n61","laci":60.6,"ci":23.5},{"line":"n61","laci":61.5,"ci":22},{"line":"n61","laci":60.55,"ci":20.5},{"line":"n61","laci":61.4,"ci":19},{"line":"n61","laci":60.5,"ci":17.5},{"line":"n61","laci":61.45,"ci":16},{"line":"n61","laci":60.6,"ci":14.5},
      {"line":"n63","laci":63.45,"ci":38.5},{"line":"n63","laci":62.6,"ci":37},{"line":"n63","laci":63.5,"ci":35.5},{"line":"n63","laci":62.55,"ci":34},{"line":"n63","laci":63.4,"ci":32.5},{"line":"n63","laci":62.5,"ci":31},{"line":"n63","laci":63.45,"ci":29.5},{"line":"n63","laci":62.6,"ci":28},{"line":"n63","laci":63.5,"ci":26.5},{"line":"n63","laci":62.55,"ci":25},{"line":"n63","laci":63.4,"ci":23.5},{"line":"n63","laci":62.5,"ci":22},{"line":"n63","laci":63.45,"ci":20.5},{"line":"n63","laci":62.6,"ci":19},{"line":"n63","laci":63.5,"ci":17.5},{"line":"n63","laci":62.55,"ci":16},{"line":"n63","laci":63.4,"ci":14.5},
      {"line":"n65","laci":64.55,"ci":38.5},{"line":"n65","laci":65.4,"ci":37},{"line":"n65","laci":64.5,"ci":35.5},{"line":"n65","laci":65.45,"ci":34},{"line":"n65","laci":64.6,"ci":32.5},{"line":"n65","laci":65.5,"ci":31},{"line":"n65","laci":64.55,"ci":29.5},{"line":"n65","laci":65.4,"ci":28},{"line":"n65","laci":64.5,"ci":26.5},{"line":"n65","laci":65.45,"ci":25},{"line":"n65","laci":64.6,"ci":23.5},{"line":"n65","laci":65.5,"ci":22},{"line":"n65","laci":64.55,"ci":20.5},{"line":"n65","laci":65.4,"ci":19},{"line":"n65","laci":64.5,"ci":17.5},{"line":"n65","laci":65.45,"ci":16},{"line":"n65","laci":64.6,"ci":14.5},
      {"line":"n67","laci":67.45,"ci":38.5},{"line":"n67","laci":66.6,"ci":37},{"line":"n67","laci":67.5,"ci":35.5},{"line":"n67","laci":66.55,"ci":34},{"line":"n67","laci":67.4,"ci":32.5},{"line":"n67","laci":66.5,"ci":31},{"line":"n67","laci":67.45,"ci":29.5},{"line":"n67","laci":66.6,"ci":28},{"line":"n67","laci":67.5,"ci":26.5},{"line":"n67","laci":66.55,"ci":25},{"line":"n67","laci":67.4,"ci":23.5},{"line":"n67","laci":66.5,"ci":22},{"line":"n67","laci":67.45,"ci":20.5},{"line":"n67","laci":66.6,"ci":19},{"line":"n67","laci":67.5,"ci":17.5},{"line":"n67","laci":66.55,"ci":16},
      {"line":"n69","laci":68.55,"ci":38.5},{"line":"n69","laci":69.4,"ci":37},{"line":"n69","laci":68.5,"ci":35.5},{"line":"n69","laci":69.45,"ci":34},{"line":"n69","laci":68.6,"ci":32.5},{"line":"n69","laci":69.5,"ci":31},{"line":"n69","laci":68.55,"ci":29.5},{"line":"n69","laci":69.4,"ci":28},{"line":"n69","laci":68.5,"ci":26.5},{"line":"n69","laci":69.45,"ci":25},{"line":"n69","laci":68.6,"ci":23.5},{"line":"n69","laci":69.5,"ci":22},{"line":"n69","laci":68.55,"ci":20.5},{"line":"n69","laci":69.4,"ci":19},{"line":"n69","laci":68.5,"ci":17.5},{"line":"n69","laci":69.45,"ci":16},{"line":"n69","laci":68.6,"ci":14.5},{"line":"n69","laci":69.5,"ci":13.5}
    ]
  },
  "spacing": -13,
  "hconcat": [
    {
      "bounds": "flush",
      "spacing": 0,
      "vconcat": [
        {
          "width": 628, "height": 117,
          "data": {"values": [{"gap": 0}]},
          "mark": {"type": "point", "opacity": 0},
          "view": {"stroke": null}
        },
        {
          "width": 628, "height": 493,
          "data": {"name": "rna"},
          "view": {"stroke": null},
          "title": {"text": "(A)", "anchor": "start", "frame": "group", "dx": -77, "dy": 3, "offset": 0, "fontSize": 42, "baseline": "alphabetic"},
          "encoding": {
            "x": {"field": "rna", "type": "quantitative", "scale": {"domain": [0, 55], "nice": false},
              "axis": {"values": [0,5,10,15,20,25,30,35,40,45,50,55], "labelFontSize": 16, "tickSize": -5, "labelPadding": 11, "domainWidth": 1.3, "title": "Number of RNA", "titleFontSize": 42, "titlePadding": 12, "titleX": 323}}
          },
          "layer": [
            {
              "mark": {"type": "line", "color": "black", "strokeWidth": 3.5},
              "encoding": {"y": {"field": "observed", "type": "quantitative", "title": "Probability", "scale": {"domain": [0, 0.08], "nice": false},
                "axis": {"values": [0,0.01,0.02,0.03,0.04,0.05,0.06,0.07,0.08], "format": ".2~f", "labelFontSize": 16, "tickSize": -5, "labelPadding": 18, "domainWidth": 1.3, "titleFontSize": 42, "titlePadding": 15, "titleY": 202}}}
            },
            {
              "mark": {"type": "line", "color": "#00ff00", "strokeWidth": 4, "interpolate": "monotone"},
              "encoding": {"y": {"field": "fitted", "type": "quantitative", "title": "Probability"}}
            },
            {
              "mark": {"type": "point", "shape": "cross", "angle": 45, "filled": true, "color": "#0000ff", "size": 110, "opacity": 1},
              "encoding": {"y": {"field": "fitted", "type": "quantitative", "title": "Probability"}}
            }
          ]
        }
      ]
    },
    {
      "bounds": "flush",
      "spacing": 76,
      "vconcat": [
        {
          "width": 392, "height": 310,
          "view": {"fill": "#352a87", "stroke": "black", "strokeWidth": 1},
          "title": {"text": "(B)", "anchor": "start", "frame": "group", "dx": -83, "dy": 85, "offset": 0, "fontSize": 42, "baseline": "alphabetic"},
          "layer": [
            {
              "data": {"name": "bands"},
              "mark": {"type": "line", "filled": true, "interpolate": "cardinal-closed", "stroke": "black", "strokeWidth": 0.8, "clip": true},
              "encoding": {
                "x": {"field": "laci", "type": "quantitative", "scale": {"domain": [1, 70], "nice": false, "zero": false},
                  "axis": {"orient": "bottom", "values": [10,20,30,40,50,60,70], "labelFontSize": 12, "tickSize": -5, "labelPadding": 8, "domain": false, "title": null}},
                "y": {"field": "ci", "type": "quantitative", "scale": {"domain": [1, 38], "nice": false, "zero": false},
                  "axis": {"values": [5,10,15,20,25,30,35], "labelFontSize": 12, "tickSize": -5, "labelPadding": 11, "domain": false, "title": "λcI", "titleFontSize": 42, "titlePadding": 15}},
                "color": {"field": "level", "type": "ordinal", "scale": {"domain": [1,2,3,4,5,6,7,8,9,10], "range": ["#2861dc","#127fd8","#0898d1","#0eaac0","#38b99e","#6dbd82","#9abf6e","#c8bc5c","#e3b94f","#fcc43a"]}, "legend": null},
                "detail": {"field": "band"},
                "order": {"value": null}
              }
            },
            {
              "data": {"name": "fullExtra"},
              "mark": {"type": "line", "filled": true, "interpolate": "cardinal-closed", "stroke": "black", "strokeWidth": 0.8, "clip": true},
              "encoding": {
                "x": {"field": "laci", "type": "quantitative", "axis": null},
                "y": {"field": "ci", "type": "quantitative", "axis": null},
                "color": {"field": "level", "type": "ordinal", "legend": null},
                "detail": {"field": "band"},
                "order": {"value": null}
              }
            },
            {
              "data": {"name": "noise"},
              "mark": {"type": "line", "color": "black", "strokeWidth": 0.7, "clip": true},
              "encoding": {
                "x": {"field": "laci", "type": "quantitative", "scale": {"domain": [1, 70], "nice": false, "zero": false},
                  "axis": {"orient": "top", "values": [10,20,30,40,50,60,70], "labels": false, "tickSize": -5, "domain": false, "title": "Full Fit", "titleFontSize": 42, "titlePadding": 10, "titleBaseline": "alphabetic", "titleX": 178}},
                "y": {"field": "ci", "type": "quantitative", "scale": {"domain": [1, 38], "nice": false, "zero": false},
                  "axis": {"orient": "right", "values": [5,10,15,20,25,30,35], "labels": false, "tickSize": -5, "domain": false, "title": null}},
                "detail": {"field": "line"},
                "order": {"value": null}
              }
            }
          ],
          "resolve": {"axis": {"x": "independent", "y": "independent"}}
        },
        {
          "width": 392, "height": 310,
          "view": {"fill": "#352a87", "stroke": "black", "strokeWidth": 1},
          "title": {"text": "(C)", "anchor": "start", "frame": "group", "dx": -83, "dy": 91, "offset": 0, "fontSize": 42, "baseline": "alphabetic"},
          "layer": [
            {
              "data": {"name": "bands"},
              "mark": {"type": "line", "filled": true, "interpolate": "cardinal-closed", "stroke": "black", "strokeWidth": 0.8, "clip": true},
              "encoding": {
                "x": {"field": "laci", "type": "quantitative", "scale": {"domain": [1, 70], "nice": false, "zero": false},
                  "axis": {"orient": "bottom", "values": [10,20,30,40,50,60,70], "labelFontSize": 12, "tickSize": -5, "labelPadding": 8, "domain": false, "title": "LacI", "titleFontSize": 42, "titlePadding": 12, "titleX": 217}},
                "y": {"field": "ci", "type": "quantitative", "scale": {"domain": [1, 38], "nice": false, "zero": false},
                  "axis": {"values": [5,10,15,20,25,30,35], "labelFontSize": 12, "tickSize": -5, "labelPadding": 11, "domain": false, "title": "λcI", "titleFontSize": 42, "titlePadding": 15}},
                "color": {"field": "level", "type": "ordinal", "scale": {"domain": [1,2,3,4,5,6,7,8,9,10], "range": ["#2861dc","#127fd8","#0898d1","#0eaac0","#38b99e","#6dbd82","#9abf6e","#c8bc5c","#e3b94f","#fcc43a"]}, "legend": null},
                "detail": {"field": "band"},
                "order": {"value": null}
              }
            },
            {
              "data": {"name": "reducedExtra"},
              "mark": {"type": "line", "filled": true, "interpolate": "cardinal-closed", "stroke": "black", "strokeWidth": 0.8, "clip": true},
              "encoding": {
                "x": {"field": "laci", "type": "quantitative", "axis": null},
                "y": {"field": "ci", "type": "quantitative", "axis": null},
                "color": {"field": "level", "type": "ordinal", "legend": null},
                "detail": {"field": "band"},
                "order": {"value": null}
              }
            },
            {
              "data": {"name": "noise"},
              "mark": {"type": "line", "color": "black", "strokeWidth": 0.7, "clip": true},
              "encoding": {
                "x": {"field": "laci", "type": "quantitative", "scale": {"domain": [1, 70], "nice": false, "zero": false},
                  "axis": {"orient": "top", "values": [10,20,30,40,50,60,70], "labels": false, "tickSize": -5, "domain": false, "title": "Reduced Fit", "titleFontSize": 42, "titlePadding": 14, "titleBaseline": "alphabetic", "titleX": 209}},
                "y": {"field": "ci", "type": "quantitative", "scale": {"domain": [1, 38], "nice": false, "zero": false},
                  "axis": {"orient": "right", "values": [5,10,15,20,25,30,35], "labels": false, "tickSize": -5, "domain": false, "title": null}},
                "detail": {"field": "line"},
                "order": {"value": null}
              }
            }
          ],
          "resolve": {"axis": {"x": "independent", "y": "independent"}}
        }
      ]
    }
  ]
}
